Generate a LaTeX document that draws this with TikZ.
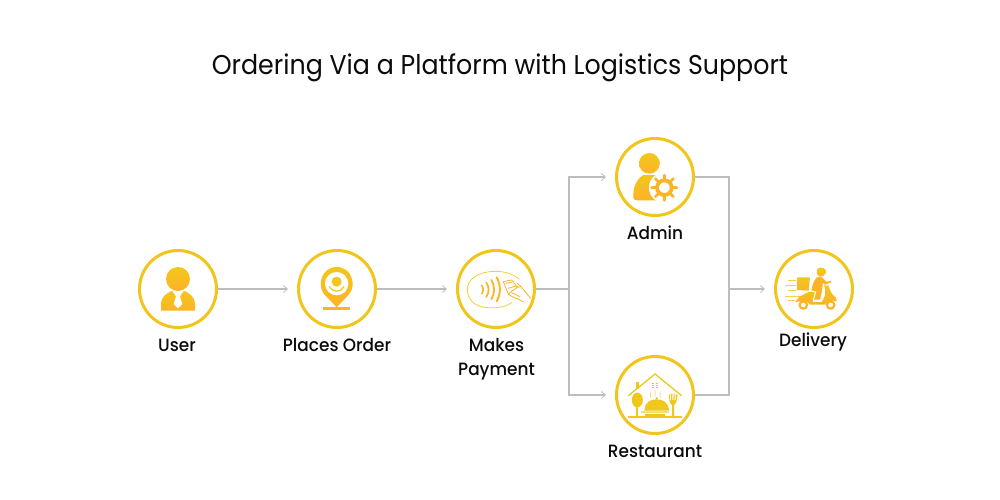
\documentclass[tikz,border=0pt]{standalone}
\usepackage{fontspec}
\setmainfont[FakeStretch=0.93]{Poppins}
\newfontfamily\lblfont[FakeStretch=0.95]{Poppins Medium}
\usetikzlibrary{arrows.meta}
\definecolor{ringc}{HTML}{F2C51C}
\definecolor{gradtop}{HTML}{F2C71B}
\definecolor{gradbot}{HTML}{FDB327}
\definecolor{wirec}{HTML}{BDBDBD}
\definecolor{inkc}{HTML}{0B0B0B}
\tikzset{
  ring/.style={circle,draw=ringc,line width=3pt,minimum size=77pt,inner sep=0pt,outer sep=1.5pt,fill=white},
  lbl/.style={font=\lblfont\fontsize{17.8}{24}\selectfont,text=inkc,align=center,inner sep=0pt},
  wire/.style={draw=wirec,line width=1.1pt},
  arr/.style={wire,-{Straight Barb[length=4pt,width=7pt,line width=0.8pt]},shorten >=9pt},
  grad/.style={top color=gradtop,bottom color=gradbot,draw=none},
  icon/.style={x=0.33333pt,y=-0.33333pt},
  thin wire/.style={draw=#1,line width=0.8pt,line join=round,line cap=round},
  thin wire/.default=gradbot
}
\begin{document}
\begin{tikzpicture}[x=1pt,y=-1pt]
\useasboundingbox (0,0) rectangle (1000,500);
\fill[white] (0,0) rectangle (1000,500);
\node[inner sep=0pt,text=inkc,font=\fontsize{27.2}{30}\selectfont] (title) at (500,68) {Ordering Via a Platform with Logistics Support};

\node[ring] (user) at (178,289) {};
\node[ring] (places) at (337,289) {};
\node[ring] (pay) at (496,289) {};
\node[ring] (admin) at (655,177) {};
\node[ring] (rest) at (655,395) {};
\node[ring] (deliv) at (814,289) {};

\node[lbl] (userl) at (177,345) {User};
\node[lbl] (placesl) at (337,345) {Places Order};
\node[lbl,text width=120pt] (payl) at (496.5,359) {Makes\\Payment};
\node[lbl] (adminl) at (655,233) {Admin};
\node[lbl] (restl) at (655,451) {Restaurant};
\node[lbl] (delivl) at (813,342) {Delivery};

\coordinate (jl) at (569,289);
\coordinate (jr) at (729,289);
\draw[arr] (user) -- (places);
\draw[arr] (places) -- (pay);
\draw[wire] (pay) -- (jl);
\draw[arr] (jl) |- (admin);
\draw[arr] (jl) |- (rest);
\draw[wire] (admin) -| (jr);
\draw[wire] (rest) -| (jr);
\draw[arr] (jr) -- (deliv);

% user icon
\begin{scope}[shift={(120,230)},icon]
\shade[grad] (174,147) circle (36);
\shade[grad] (123,242) -- (123,222) .. controls (125,198) and (140,190) .. (155,183) -- (193,183) .. controls (208,190) and (223,198) .. (225,222) -- (225,242) -- cycle;
\fill[white] (157,183) -- (191,183) -- (180,199) -- (187,222) -- (174,235) -- (161,222) -- (168,199) -- cycle;
\end{scope}

% pin icon
\begin{scope}[shift={(120,230)},icon]
\shade[grad] (650,232) -- (612,192) .. controls (590,165) and (605,111) .. (650,111) .. controls (695,111) and (710,165) .. (688,192) -- cycle;
\fill[white] (650,161) circle (35);
\fill[gradtop] (650,155) circle (15);
\draw[gradtop,line width=1.2pt,line cap=round] (628,170) .. controls (638,188) and (662,188) .. (672,170);
\fill[gradbot] (608,232) rectangle (690,240);
\end{scope}

% payment icon
\begin{scope}[shift={(440,230)},icon]
\draw[thin wire=gradtop!85!white] (215,218) .. controls (190,235) and (155,235) .. (135,232) .. controls (100,228) and (82,205) .. (82,178) .. controls (82,145) and (120,124) .. (165,124) .. controls (195,124) and (220,132) .. (238,148);
\begin{scope}[gradbot,line cap=round]
\draw[line width=1.6pt] (125,166) .. controls (131,175) and (131,182) .. (125,191);
\draw[line width=1.7pt] (139,158) .. controls (148,172) and (148,186) .. (139,201);
\draw[line width=1.8pt] (154,150) .. controls (165,170) and (165,190) .. (154,208);
\draw[line width=1.9pt] (170,142) .. controls (183,167) and (183,190) .. (170,214);
\end{scope}
\draw[thin wire] (190,155) -- (215,150) -- (232,172) -- (205,192) -- cycle;
\draw[thin wire] (196,160) -- (214,157);
\draw[thin wire] (232,160) .. controls (250,175) and (258,190) .. (272,205);
\draw[thin wire] (205,175) -- (228,168) -- (238,172);
\draw[thin wire] (205,192) .. controls (215,200) and (225,205) .. (232,206) -- (250,216);
\draw[thin wire] (215,188) -- (240,200);
\end{scope}

% admin icon
\begin{scope}[shift={(600,125)},icon]
\shade[grad] (148,115) circle (31);
\shade[grad] (100,218) .. controls (98,185) and (112,160) .. (130,150) -- (170,150) -- (178,170) -- (170,226) -- (112,226) .. controls (104,226) and (100,223) .. (100,218) -- cycle;
\fill[white] (193,188) circle (46);
\begin{scope}[shift={(193,188)}]
\foreach \a in {0,45,...,315} {
  \draw[gradbot,line width=2.6pt] (\a:24) -- (\a:36);
  \fill[gradbot] (\a:37) circle (5);
}
\draw[gradbot,line width=3.8pt] (0,0) circle (22);
\end{scope}
\end{scope}

% restaurant icon
\begin{scope}[shift={(600,345)},icon]
\draw[gradtop,line width=1.3pt] (85,152) -- (165,87) -- (245,152);
\fill[gradtop] (107,110) rectangle (117,133);
\fill[gradtop] (112,143) .. controls (90,143) and (90,187) .. (112,187) .. controls (134,187) and (134,143) .. (112,143) -- cycle;
\fill[gradtop] (109,180) rectangle (115,215);
\fill[gradtop] (133,197) .. controls (135,172) and (150,163) .. (170,163) .. controls (190,163) and (205,172) .. (207,197) -- cycle;
\fill[gradtop] (170,160) circle (4);
\fill[gradtop!60!white] (122,199) rectangle (207,205);
\fill[gradtop] (85,213) rectangle (245,218);
\fill[gradtop] (135,207) rectangle (195,212);
\draw[gradtop,line width=0.7pt] (155,114) -- (161,114) (167,114) -- (174,114) (155,121) -- (161,121) (167,121) -- (174,121) (155,128) -- (161,128) (167,128) -- (174,128);
\draw[gradtop,line width=0.5pt] (152,142) .. controls (148,148) and (156,152) .. (152,158) (165,136) .. controls (161,143) and (169,148) .. (165,154) (180,142) .. controls (176,148) and (184,152) .. (180,158);
\fill[gradtop] (207,148) -- (210,148) -- (210,165) -- (213,165) -- (213,146) -- (217,146) -- (217,165) -- (220,165) -- (221,146) -- (224,146) -- (224,165) -- (227,165) -- (227,148) -- (232,148) .. controls (232,170) and (226,178) .. (222,180) -- (222,215) -- (216,215) -- (216,180) .. controls (211,178) and (207,170) .. (207,148) -- cycle;
\end{scope}

% delivery icon
\begin{scope}[shift={(720,240)},icon]
\shade[grad] (232,112) -- (270,112) -- (266,152) -- (232,150) -- cycle;
\draw[gradtop!80!white,line width=0.9pt] (205,122) -- (228,122) (195,135) -- (228,135) (205,150) -- (228,150) (195,168) -- (240,168) (205,182) -- (225,182);
% scooter body
\shade[grad] (225,187) -- (238,170) -- (268,155) -- (286,155) -- (278,186) -- (305,186) .. controls (318,170) and (318,150) .. (312,135) -- (323,132) .. controls (330,150) and (335,165) .. (347,172) -- (351,184) .. controls (335,178) and (322,185) .. (316,194) -- (272,194) .. controls (262,182) and (240,182) .. (225,187) -- cycle;
% rider
\draw[white,line width=1pt,fill=gradbot] (288,112) .. controls (295,105) and (310,108) .. (314,118) -- (326,128) -- (320,136) -- (310,132) -- (308,150) -- (302,180) -- (280,180) -- (287,156) -- (272,153) .. controls (275,135) and (280,120) .. (288,112) -- cycle;
\shade[grad] (303,97) circle (13);
\fill[gradtop] (290,92) .. controls (293,80) and (310,80) .. (317,90) -- (319,101) -- (305,97) -- cycle;
\fill[gradbot] (311,128) -- (333,122) -- (334,127) -- (314,134) -- cycle;
\draw[gradbot,line width=2.2pt] (250,195) circle (11);
\draw[gradbot,line width=2.2pt] (332,195) circle (11);
\end{scope}
\end{tikzpicture}
\end{document}
